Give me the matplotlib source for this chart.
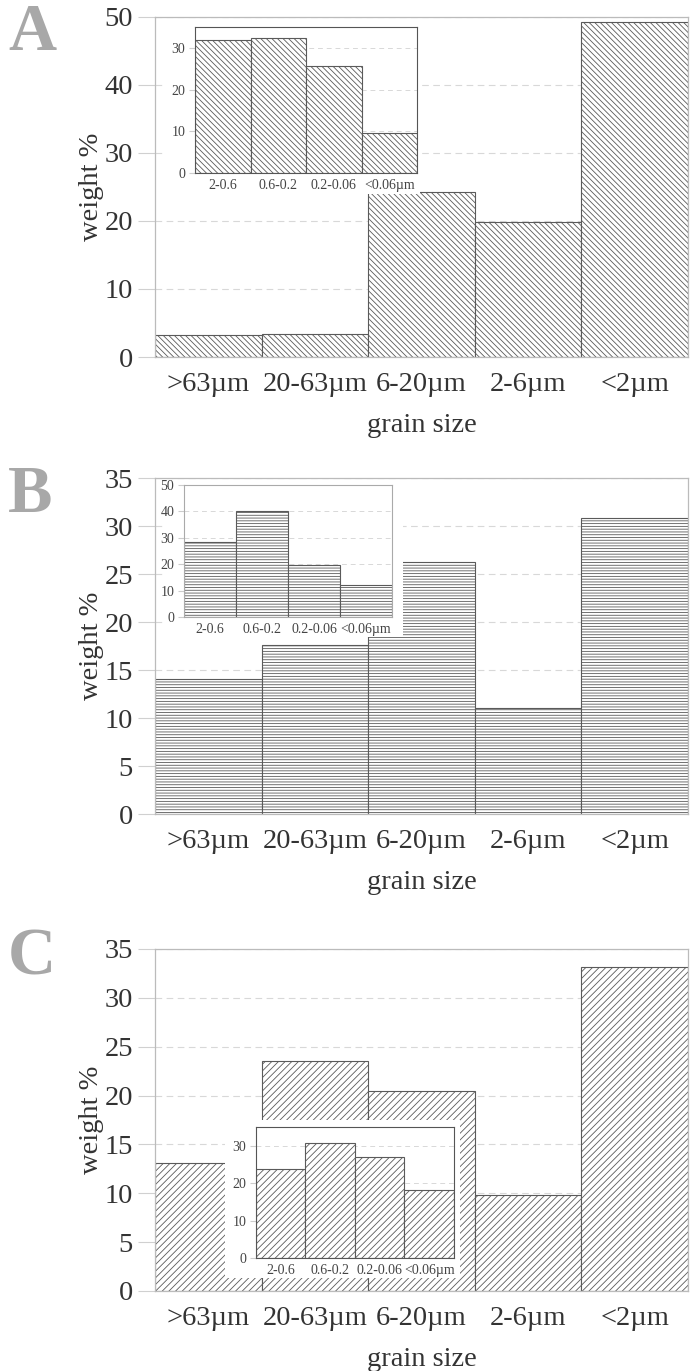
import numpy as np
import matplotlib
matplotlib.use('Agg')
import matplotlib.pyplot as plt

plt.rcParams['font.family'] = ['Liberation Serif', 'DejaVu Serif']
plt.rcParams['hatch.linewidth'] = 0.6

W, H = 691, 1371
FS = 20.5      # main text size
FS_IN = 10     # inset text size

# grain size classes (main plots) and clay sub-fractions (insets)
grain_labels = ['>63µm', '20-63µm', '6-20µm', '2-6µm', '<2µm']
clay_labels = ['2-0.6', '0.6-0.2', '0.2-0.06', '<0.06µm']

# weight % per class, samples A, B, C
wt_A = [3.3, 3.4, 24.2, 19.8, 49.2]
wt_B = [14.1, 17.6, 26.3, 11.0, 30.8]
wt_C = [13.1, 23.5, 20.5, 9.8, 33.2]

# clay sub-fraction weight %
clay_A = [31.9, 32.4, 25.6, 9.5]
clay_B = [28.3, 40.2, 19.6, 12.3]
clay_C = [23.8, 30.6, 26.9, 18.2]


def px_rect(x0, y0, x1, y1):
    # pixel box (top-left origin) -> figure fraction [left, bottom, width, height]
    return [x0 / W, 1 - y1 / H, (x1 - x0) / W, (y1 - y0) / H]


def main_panel(fig, box, vals, ymax, step, hatch, letter, letter_y):
    ax = fig.add_axes(px_rect(*box))
    x = np.arange(len(vals))
    ax.bar(x, vals, width=1.0, color='white', edgecolor='#5a5a5a',
           linewidth=0.8, hatch=hatch, zorder=2)
    ax.set_xlim(-0.5, len(vals) - 0.5)
    ax.set_ylim(0, ymax)
    ax.set_yticks(np.arange(0, ymax + 0.1, step))
    ax.set_xticks(x)
    ax.set_xticklabels(grain_labels)
    ax.tick_params(axis='y', labelsize=FS, length=12, color='#d0d0d0',
                   labelcolor='#333333', pad=4)
    ax.tick_params(axis='x', labelsize=FS, length=0, labelcolor='#333333', pad=11)
    ax.yaxis.grid(True, color='#d8d8d8', ls=(0, (6, 4)), lw=0.8)
    ax.set_axisbelow(True)
    for s in ax.spines.values():
        s.set_color('#bbbbbb')
        s.set_linewidth(0.9)
    ax.set_ylabel('weight %', fontsize=FS, color='#333333')
    ax.yaxis.set_label_coords(-0.095, 0.5)
    ax.set_xlabel('grain size', fontsize=FS, color='#333333', labelpad=11)
    fig.text(8 / W, 1 - letter_y / H, letter, fontsize=48, fontweight='bold',
             color='#a8a8a8', ha='left', va='center')
    return ax


def inset_panel(fig, wbox, box, vals, ymax, hatch, frame):
    # white backing so the inset sits on a clean patch over the main bars
    bg = fig.add_axes(px_rect(*wbox))
    bg.set_xticks([])
    bg.set_yticks([])
    for s in bg.spines.values():
        s.set_visible(False)
    ax = fig.add_axes(px_rect(*box))
    x = np.arange(len(vals))
    ax.bar(x, vals, width=1.0, color='white', edgecolor='#5a5a5a',
           linewidth=0.8, hatch=hatch, zorder=2)
    ax.set_xlim(-0.5, len(vals) - 0.5)
    ax.set_ylim(0, ymax)
    ax.set_yticks(np.arange(0, ymax, 10))
    ax.set_xticks(x)
    ax.set_xticklabels(clay_labels)
    ax.tick_params(axis='y', labelsize=FS_IN, length=4, color='#cccccc',
                   labelcolor='#444444', pad=3)
    ax.tick_params(axis='x', labelsize=FS_IN, length=0, labelcolor='#444444', pad=4)
    ax.yaxis.grid(True, color='#d8d8d8', ls=(0, (5, 4)), lw=0.7)
    ax.set_axisbelow(True)
    for s in ax.spines.values():
        s.set_color(frame)
        s.set_linewidth(0.8)
    return ax


fig = plt.figure(figsize=(W / 100, H / 100), dpi=100)

main_panel(fig, (155, 17, 688, 357), wt_A, 50, 10, '\\' * 6, 'A', 33)
inset_panel(fig, (163, 20, 420, 194), (195, 27, 417, 173), clay_A, 35,
            '\\' * 6, '#555555')

main_panel(fig, (155, 478, 688, 814), wt_B, 35, 5, '-' * 6, 'B', 496)
inset_panel(fig, (163, 480, 403, 637), (184, 485, 392, 617), clay_B, 50.01,
            '-' * 6, '#aaaaaa')

main_panel(fig, (155, 949, 688, 1291), wt_C, 35, 5, '/' * 5, 'C', 958)
inset_panel(fig, (225, 1120, 460, 1278), (256, 1127, 454, 1258), clay_C, 35,
            '/' * 5, '#555555')

plt.savefig('out.png', dpi=100)
